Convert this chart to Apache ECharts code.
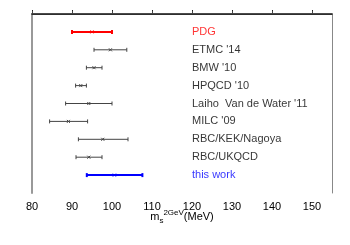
<!DOCTYPE html>
<html><head><meta charset="utf-8">
<script src="https://cdn.jsdelivr.net/npm/echarts@6/dist/echarts.min.js"></script>
<style>html,body{margin:0;padding:0;background:#fff}#c{width:350px;height:245px}</style>
</head><body><div id="c"></div>
<script>
var names = ["PDG", "ETMC '14", "BMW '10", "HPQCD '10", "Laiho  Van de Water '11", "MILC '09", "RBC/KEK/Nagoya", "RBC/UKQCD", "this work"];
var centers = [95.0, 99.6, 95.5, 92.2, 94.2, 89.1, 97.7, 94.2, 100.6];
var lows = [90.0, 95.5, 93.6, 90.9, 88.4, 84.4, 91.6, 91.0, 93.7];
var highs = [100.0, 103.7, 97.5, 93.6, 100.0, 93.9, 104.0, 97.5, 107.6];
var labelX = 120;
var xTicks = [80, 90, 100, 110, 120, 130, 140, 150];

var colors = names.map(function(n){ return n === 'PDG' ? '#ff0000' : (n === 'this work' ? '#0000ff' : '#444444'); });
var widths = names.map(function(n){ return (n === 'PDG' || n === 'this work') ? 2 : 1; });

var barData = names.map(function(n, i){ return [i + 1, lows[i], highs[i], centers[i]]; });
var labelData = names.map(function(n, i){ return {value: [labelX, i + 1], name: n, label: {color: colors[i] === '#444444' ? '#000' : colors[i]}}; });

var chart = echarts.init(document.getElementById('c'), null, {renderer: 'canvas'});
chart.setOption({
  animation: false,
  grid: {left: 32, top: 14, right: 18, bottom: 52},
  xAxis: [{
    type: 'value', min: 80, max: 155, interval: 10, position: 'bottom',
    axisLine: {show: true, lineStyle: {color: '#888', width: 1}},
    axisTick: {show: true, inside: true, length: 4, customValues: xTicks, lineStyle: {color: '#222'}},
    axisLabel: {fontSize: 11, color: '#000', fontFamily: 'Liberation Sans', margin: 8, customValues: xTicks},
    splitLine: {show: false},
    name: '{m|m}{s|s}{p|2GeV}{m|(MeV)}', nameLocation: 'middle', nameGap: 16, nameMoveOverlap: false,
    nameTextStyle: {rich: {
      m: {fontSize: 11, color: '#000', fontFamily: 'Liberation Sans', verticalAlign: 'middle', lineHeight: 16},
      s: {fontSize: 8, color: '#000', fontFamily: 'Liberation Sans', verticalAlign: 'bottom', lineHeight: 16},
      p: {fontSize: 8, color: '#000', fontFamily: 'Liberation Sans', verticalAlign: 'top', lineHeight: 16}
    }}
  }, {
    type: 'value', min: 80, max: 155, interval: 10, position: 'top',
    axisLine: {show: true, lineStyle: {color: '#111', width: 1.5}},
    axisTick: {show: true, inside: false, length: 3, customValues: xTicks, lineStyle: {color: '#444'}},
    axisLabel: {show: false}, splitLine: {show: false}
  }],
  yAxis: [{
    type: 'value', min: 0, max: 10, inverse: true, position: 'left',
    axisLine: {show: true, lineStyle: {color: '#999', width: 2}},
    axisTick: {show: false}, axisLabel: {show: false}, splitLine: {show: false}
  }, {
    type: 'value', min: 0, max: 10, inverse: true, position: 'right',
    axisLine: {show: true, lineStyle: {color: '#888', width: 1}},
    axisTick: {show: false}, axisLabel: {show: false}, splitLine: {show: false}
  }],
  series: [{
    type: 'custom',
    data: barData,
    renderItem: function(params, api){
      var idx = params.dataIndex;
      var row = api.value(0);
      var l = api.coord([api.value(1), row]);
      var h = api.coord([api.value(2), row]);
      var c = api.coord([api.value(3), row]);
      var col = colors[idx], w = widths[idx];
      var cap = 2;
      var st = {stroke: col, lineWidth: w};
      var m = 1.5;
      return {type: 'group', children: [
        {type: 'line', shape: {x1: l[0], y1: l[1], x2: h[0], y2: h[1]}, style: st},
        {type: 'line', shape: {x1: l[0], y1: l[1] - cap, x2: l[0], y2: l[1] + cap}, style: st},
        {type: 'line', shape: {x1: h[0], y1: h[1] - cap, x2: h[0], y2: h[1] + cap}, style: st},
        {type: 'line', shape: {x1: c[0] - m, y1: c[1] - m, x2: c[0] + m, y2: c[1] + m}, style: {stroke: col, lineWidth: 1}},
        {type: 'line', shape: {x1: c[0] - m, y1: c[1] + m, x2: c[0] + m, y2: c[1] - m}, style: {stroke: col, lineWidth: 1}}
      ]};
    }
  }, {
    type: 'scatter',
    data: labelData,
    symbolSize: 0,
    label: {show: true, position: 'right', distance: 0, fontSize: 11, fontFamily: 'Liberation Sans',
      formatter: function(p){ return p.name; }}
  }]
});
</script></body></html>
